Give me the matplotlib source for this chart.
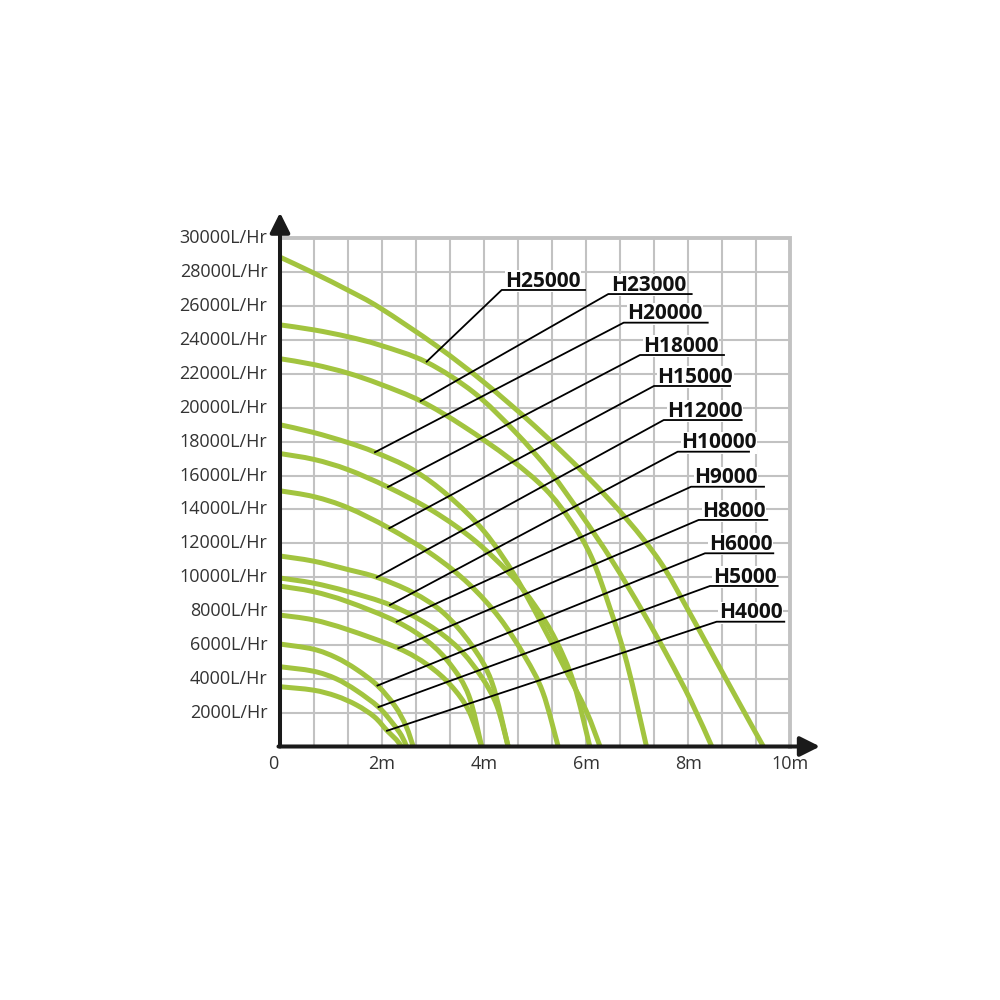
import matplotlib
matplotlib.use("Agg")
import matplotlib.pyplot as plt
from matplotlib.path import Path
from matplotlib.patches import PathPatch

# ---------------- data ----------------
# head (m) / flow (L/Hr) points of each pump curve
curve_x = [
    [0, 0.67, 1.33, 1.96, 3.07, 4.0, 5.0, 6.0, 6.8, 7.45, 7.97, 8.49, 9.01, 9.47],
    [0, 0.67, 1.33, 1.96, 2.87, 3.8, 4.6, 5.3, 5.9, 6.5, 7.1, 7.6, 8.05, 8.46],
    [0, 0.67, 1.33, 1.96, 2.76, 3.6, 4.5, 5.2, 5.7, 6.1, 6.45, 6.8, 7.18],
    [0, 0.65, 1.33, 1.86, 2.6, 3.3, 4.0, 4.6, 5.1, 5.6, 6.0, 6.27],
    [0, 0.67, 1.33, 2.12, 3.0, 3.8, 4.5, 5.0, 5.4, 5.75, 6.07],
    [0, 0.67, 1.33, 2.14, 3.0, 3.7, 4.3, 4.8, 5.15, 5.45],
    [0, 0.65, 1.33, 1.9, 2.6, 3.2, 3.75, 4.15, 4.47],
    [0, 0.65, 1.33, 2.16, 2.9, 3.5, 3.95, 4.25, 4.47],
    [0, 0.65, 1.33, 2.29, 2.9, 3.35, 3.7, 3.95],
    [0, 0.65, 1.33, 2.32, 2.9, 3.35, 3.7, 3.95],
    [0, 0.65, 1.1, 1.5, 1.91, 2.25, 2.47, 2.61],
    [0, 0.65, 1.1, 1.5, 1.93, 2.2, 2.38, 2.48],
    [0, 0.65, 1.1, 1.5, 1.85, 2.1, 2.28, 2.38],
]
curve_y = [
    [28900, 27950, 26950, 25900, 23650, 21500, 18900, 16000, 13400, 10900, 8200, 5350, 2500, 0],
    [24900, 24600, 24200, 23700, 22700, 20900, 18600, 16200, 13700, 11000, 8000, 5300, 2700, 0],
    [22900, 22550, 22050, 21400, 20400, 18900, 17000, 15200, 13300, 11200, 8300, 4900, 0],
    [19000, 18550, 17950, 17380, 16350, 14800, 12700, 10100, 7400, 4500, 2100, 0],
    [17300, 16950, 16350, 15310, 13900, 12200, 10200, 8300, 6300, 3800, 0],
    [15100, 14750, 14100, 12890, 11300, 9600, 7600, 5300, 3200, 0],
    [11250, 10950, 10450, 9990, 9100, 7900, 6000, 3800, 0],
    [9950, 9650, 9150, 8360, 7200, 5800, 4100, 2400, 0],
    [9470, 9150, 8550, 7370, 6200, 4800, 3000, 0],
    [7760, 7480, 6900, 5800, 4800, 3600, 2100, 0],
    [6050, 5750, 5250, 4550, 3600, 2400, 1200, 0],
    [4710, 4450, 4000, 3300, 2330, 1400, 650, 0],
    [3530, 3330, 2980, 2450, 1750, 930, 400, 0],
]

model_names = ["H25000", "H23000", "H20000", "H18000", "H15000", "H12000",
               "H10000", "H9000", "H8000", "H6000", "H5000", "H4000"]

y_ticks = list(range(2000, 30001, 2000))
y_tick_labels = [f"{v}L/Hr" for v in y_ticks]
x_ticks = [0, 2, 4, 6, 8, 10]
x_tick_labels = ["0", "2m", "4m", "6m", "8m", "10m"]

# ---------------- layout of the model labels (positions only) ----------------
# text centre x, underline y, underline x0, x1, leader end x, leader end y
label_layout = [
    (5.159, 26960, 4.344, 5.976, 2.874, 22730),
    (7.224, 26720, 6.432, 8.066, 2.757, 20400),
    (7.543, 25030, 6.734, 8.380, 1.861, 17380),
    (7.862, 23120, 7.053, 8.699, 2.116, 15330),
    (8.137, 21290, 7.327, 8.817, 2.141, 12890),
    (8.327, 19280, 7.518, 9.046, 1.895, 9990),
    (8.595, 17410, 7.792, 9.189, 2.155, 8360),
    (8.744, 15340, 8.053, 9.483, 2.286, 7370),
    (8.889, 13380, 8.203, 9.547, 2.318, 5800),
    (9.022, 11410, 8.327, 9.665, 1.910, 3600),
    (9.104, 9480, 8.425, 9.751, 1.930, 2330),
    (9.218, 7370, 8.556, 9.880, 2.096, 930),
]

CURVE = "#a2c43f"
GRID = "#c2c2c2"
TXT = "#333333"


def smooth_path(xs, ys):
    """Smooth Bezier path passing through the read points."""
    pts = list(zip(xs, ys))
    n = len(pts)
    verts = [pts[0]]
    codes = [Path.MOVETO]
    for i in range(n - 1):
        p0 = pts[i - 1] if i > 0 else pts[i]
        p1 = pts[i]
        p2 = pts[i + 1]
        p3 = pts[i + 2] if i + 2 < n else pts[i + 1]
        c1 = (p1[0] + (p2[0] - p0[0]) / 6, p1[1] + (p2[1] - p0[1]) / 6)
        c2 = (p2[0] - (p3[0] - p1[0]) / 6, p2[1] - (p3[1] - p1[1]) / 6)
        verts += [c1, c2, p2]
        codes += [Path.CURVE4] * 3
    return Path(verts, codes)


fig = plt.figure(figsize=(10, 10), dpi=100)
fig.patch.set_facecolor("white")
ax = fig.add_axes([0.28, 0.2535, 0.5104, 0.508])
ax.set_xlim(0, 10)
ax.set_ylim(0, 30000)
ax.axis("off")

# grid
gx = [i * 2 / 3 for i in range(16)]
for v in gx[1:-1]:
    ax.plot([v, v], [0, 30000], color=GRID, lw=1.5, zorder=1, clip_on=False)
for v in y_ticks[:-1]:
    ax.plot([0, 10], [v, v], color=GRID, lw=1.5, zorder=1, clip_on=False)
ax.plot([0, 10, 10], [30000, 30000, 0], color=GRID, lw=2.8, zorder=1,
        clip_on=False, solid_joinstyle="miter")

# curves
for xs, ys in zip(curve_x, curve_y):
    ax.add_patch(PathPatch(smooth_path(xs, ys), facecolor="none",
                           edgecolor=CURVE, lw=3.6, zorder=3, clip_on=False,
                           capstyle="butt", joinstyle="round"))

# labels with leader lines
for name, (tx, uy, ux0, ux1, ex, ey) in zip(model_names, label_layout):
    ax.plot([ex, ux0, ux1], [ey, uy, uy], color="black", lw=1.3, zorder=6,
            clip_on=False)
    ax.text(tx, uy + 200, name, ha="center", va="baseline", fontsize=15,
            fontweight="bold", family="Open Sans", color="#111111", zorder=5,
            bbox=dict(facecolor="white", edgecolor="none", pad=0.3))

# axes with arrows
ax.annotate("", xy=(0, 31530), xytext=(0, 0),
            arrowprops=dict(arrowstyle="-|>,head_length=1.2,head_width=0.6",
                            lw=2.9, color="#1a1a1a", shrinkA=0, shrinkB=0),
            annotation_clip=False, zorder=7)
ax.annotate("", xy=(10.58, 0), xytext=(-0.03, 0),
            arrowprops=dict(arrowstyle="-|>,head_length=1.2,head_width=0.6",
                            lw=2.9, color="#1a1a1a", shrinkA=0, shrinkB=0),
            annotation_clip=False, zorder=7)

# tick labels
for v, s in zip(y_ticks, y_tick_labels):
    ax.text(-0.245, v, s, ha="right", va="center", fontsize=13,
            family="Open Sans", color=TXT, clip_on=False)
for v, s in zip(x_ticks, x_tick_labels):
    xo = v - 0.14 if v == 0 else v
    ax.text(xo, -1016, s, ha="center", va="center", fontsize=13,
            family="Open Sans", color=TXT, clip_on=False)

fig.savefig("out.png", dpi=100, facecolor="white")
